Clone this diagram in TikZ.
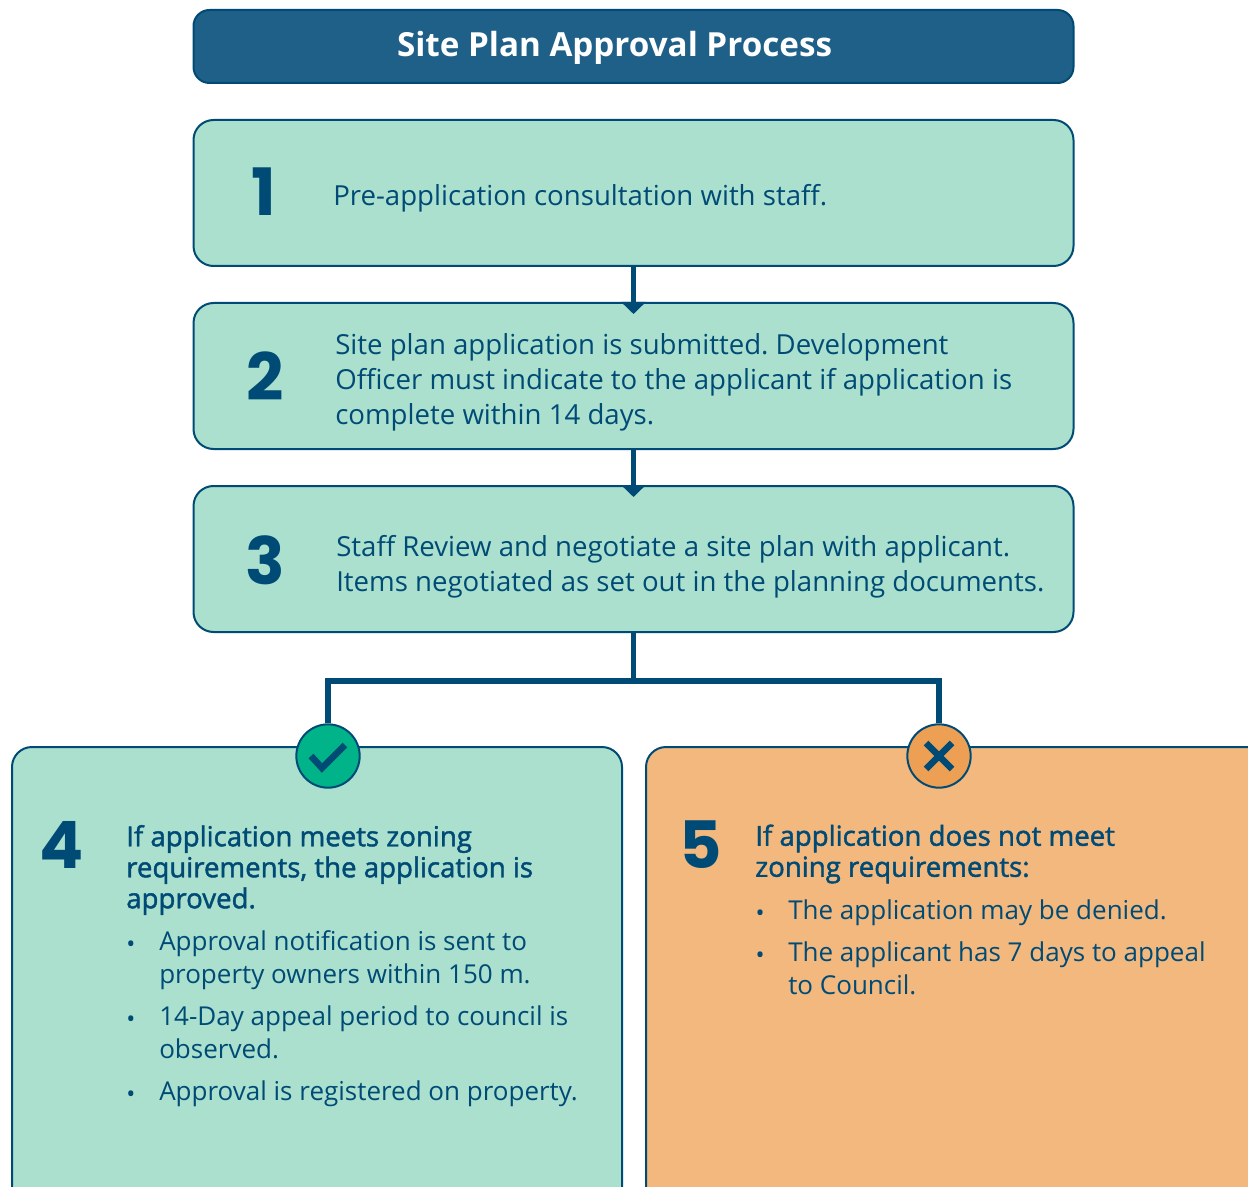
\documentclass[tikz,border=0pt]{standalone}
\usepackage{fontspec}
\setmainfont{Open Sans}
\newfontfamily\headfont[FakeBold=1.6]{Open Sans}
\newfontfamily\numfont{Poppins}
\usetikzlibrary{arrows.meta}
\definecolor{inkblue}{HTML}{004B76}
\definecolor{titleblue}{HTML}{1F6088}
\definecolor{mint}{HTML}{ABE0CE}
\definecolor{peach}{HTML}{F2B87E}
\definecolor{okgreen}{HTML}{00B388}
\definecolor{noorange}{HTML}{EDA054}
\frenchspacing
\tikzset{
	panel/.style={draw=inkblue,line width=1.5,rounded corners=15,fill=mint},
	stepbox/.style={panel,minimum width=660,minimum height=109.5,inner sep=0},
	bigbox/.style={panel,anchor=north west,inner sep=0},
	numlabel/.style={text=inkblue,font=\fontsize{49}{49}\numfont\bfseries,inner sep=0},
	body/.style={text=inkblue,font=\fontsize{20.7}{26.25}\selectfont,align=left,anchor=west,inner sep=0},
	head/.style={text=inkblue,font=\fontsize{20.7}{23.25}\headfont,align=left,anchor=west,inner sep=0},
	item/.style={text=inkblue,font=\fontsize{19.5}{24.75}\selectfont,align=left,anchor=north west,inner sep=0},
	bulletmark/.style={text=inkblue,font=\fontsize{18}{18}\selectfont,inner sep=0},
	flow/.style={draw=inkblue,line width=4},
	flowhead/.style={flow,-{Triangle[width=18pt,length=9pt]},shorten >=-9pt},
	badge/.style={circle,draw=inkblue,line width=1.5,minimum size=47.5,inner sep=0},
	sign/.style={draw=inkblue,line width=5}
}
\begin{document}
\begin{tikzpicture}[x=0.75pt,y=-0.75pt]
	\useasboundingbox (0,0) rectangle (1248,1187);
	\clip (0,0) rectangle (1248,1187);

	% boxes
	\node [panel,fill=titleblue,minimum width=660,minimum height=54.75,inner sep=0,rounded corners=12] (title) at (633.5,46.5) {};
	\node [text=white,font=\fontsize{24.9}{25}\selectfont\bfseries,inner sep=0] (titletext) at (614.5,48) {Site Plan Approval Process};
	\node [stepbox] (box1) at (633.5,193) {};
	\node [stepbox] (box2) at (633.5,376) {};
	\node [stepbox] (box3) at (633.5,559) {};
	\node [bigbox,minimum width=457.5,minimum height=400] (box4) at (11,746) {};
	\node [bigbox,fill=peach,minimum width=465,minimum height=400] (box5) at (645,746) {};

	% connectors
	\coordinate (split) at (633.5,681);
	\draw [flowhead] (box1) -- (box2);
	\draw [flowhead] (box2) -- (box3);
	\node [badge,fill=okgreen] (yes) at (328,756) {};
	\node [badge,fill=noorange] (no) at (939,756) {};
	\draw [flow] (box3.south) -- (split);
	\draw [flow] (split) -| (yes.north);
	\draw [flow] (split) -| (no.north);

	% signs
	\draw [sign] (311,756) -- (322,768) -- (345,745);
	\draw [sign] (926,743) -- (952,769);
	\draw [sign] (926,769) -- (952,743);

	% numbers
	\node [numlabel] (n1) at (264,192) {1};
	\node [numlabel] (n2) at (265,376) {2};
	\node [numlabel] (n3) at (265,560) {3};
	\node [numlabel] (n4) at (62,845) {4};
	\node [numlabel] (n5) at (701,845) {5};

	% texts
	\node [body] (t1) at (333,198) {Pre-application consultation with staff.};
	\node [body] (t2) at (335,382.5) {Site plan application is submitted. Development\\Officer must indicate to the applicant if application is\\complete within 14 days.};
	\node [body] (t3) at (336,567) {Staff Review and negotiate a site plan with applicant.\\Items negotiated as set out in the planning documents.};

	\node [head] (h4) at (126,870) {If application meets zoning\\requirements, the application is\\approved.};
	\node [item] (a1) at (159,930) {Approval notification is sent to\\property owners within 150 m.};
	\node [item] (a2) at (159,1005) {14-Day appeal period to council is\\observed.};
	\node [item] (a3) at (159,1080) {Approval is registered on property.};
	\node [bulletmark] (b1) at (131,947) {•};
	\node [bulletmark] (b2) at (131,1022) {•};
	\node [bulletmark] (b3) at (131,1097) {•};

	\node [head] (h5) at (755,854) {If application does not meet\\zoning requirements:};
	\node [item] (c1) at (788,899) {The application may be denied.};
	\node [item] (c2) at (788,941) {The applicant has 7 days to appeal\\to Council.};
	\node [bulletmark] (d1) at (760,916) {•};
	\node [bulletmark] (d2) at (760,958) {•};
\end{tikzpicture}
\end{document}
